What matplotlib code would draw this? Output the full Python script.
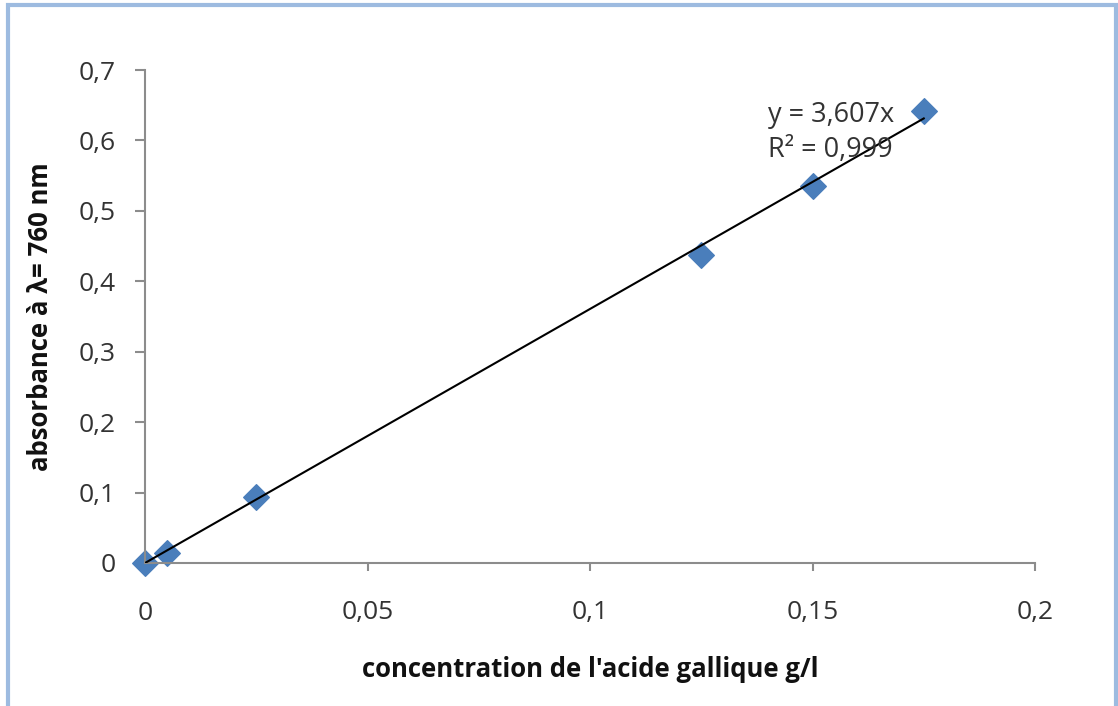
import matplotlib
matplotlib.use("Agg")
import matplotlib.pyplot as plt
from matplotlib.patches import Rectangle
from matplotlib.ticker import FuncFormatter

conc = [0.0, 0.005, 0.025, 0.125, 0.15, 0.175]
absorb = [0.0, 0.014, 0.094, 0.437, 0.536, 0.642]
slope = 3.607
r2_text = "R² = 0,999"
eq_text = "y = 3,607x"
x_ticks = [0, 0.05, 0.1, 0.15, 0.2]
y_ticks = [0, 0.1, 0.2, 0.3, 0.4, 0.5, 0.6, 0.7]
xlabel = "concentration de l'acide gallique g/l"
ylabel = "absorbance à λ= 760 nm"

plt.rcParams['font.family'] = ['Open Sans', 'DejaVu Sans']

fig = plt.figure(figsize=(11.18, 7.06), dpi=100)
fig.patches.append(Rectangle((8/1118, -0.01), (1116-8)/1118, 1 - 5/706 + 0.01,
                             transform=fig.transFigure, fill=False,
                             edgecolor='#9dbbe0', linewidth=3))
ax = fig.add_axes([145/1118, 1 - 563/706, (1035-145)/1118, (563-70)/706])

fit_x = [min(conc), max(conc)]
fit_y = [slope * v for v in fit_x]
ax.plot(fit_x, fit_y, color='black', lw=1.5, zorder=3)
ax.scatter(conc, absorb, marker='D', s=170, color='#4a7ebb', zorder=2, clip_on=False)

ax.set_xlim(0, 0.2)
ax.set_ylim(0, 0.7)
ax.set_xticks(x_ticks)
ax.set_yticks(y_ticks)
fmt = FuncFormatter(lambda v, p: ('%g' % round(v, 3)).replace('.', ','))
ax.xaxis.set_major_formatter(fmt)
ax.yaxis.set_major_formatter(fmt)
for s in ['top', 'right']:
    ax.spines[s].set_visible(False)
for s in ['left', 'bottom']:
    ax.spines[s].set_color('#8c8c8c')
    ax.spines[s].set_linewidth(1.5)
ax.tick_params(axis='both', colors='#8c8c8c', labelcolor='#333333', labelsize=19, width=1.5)
ax.tick_params(axis='y', length=7, pad=14)
ax.tick_params(axis='x', length=6, pad=21)

ax.set_xlabel(xlabel, fontsize=18.5, fontweight='bold', labelpad=22, color='#111111')
ax.set_ylabel(ylabel, fontsize=18.5, fontweight='bold', labelpad=18, color='#111111')

ax.text(0.14, 0.611, eq_text + "\n" + r2_text, fontsize=19.5, color='#333333',
        ha='left', va='center', linespacing=1.35)

fig.savefig('out.png', dpi=100)
